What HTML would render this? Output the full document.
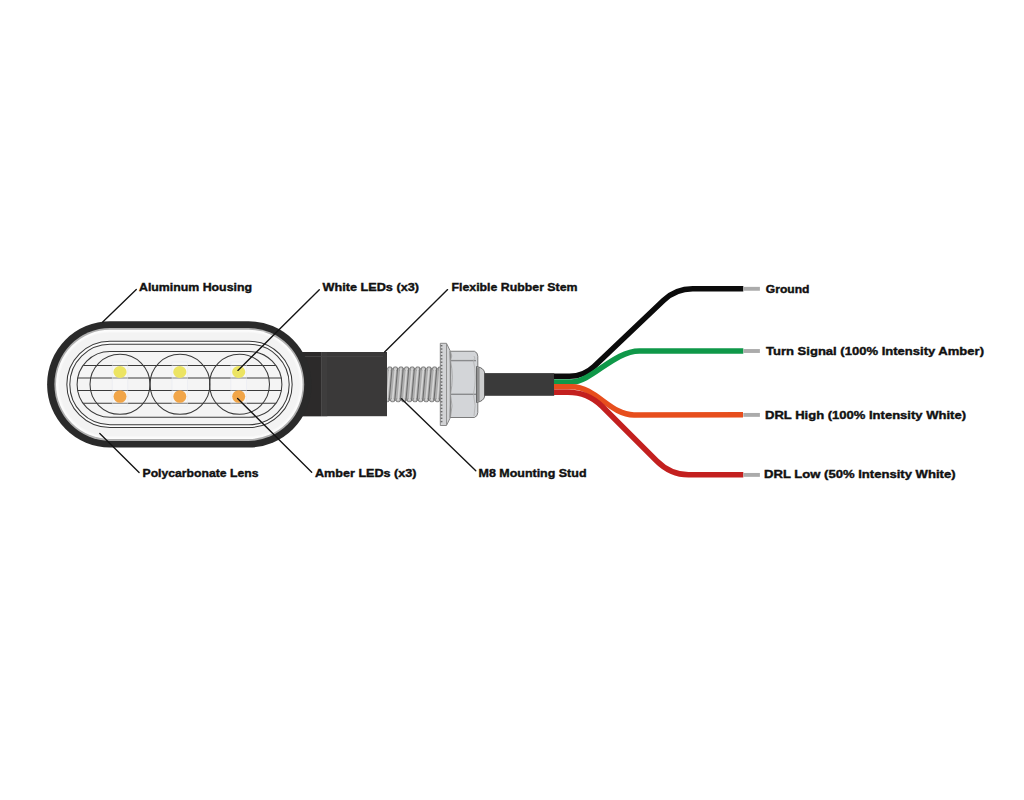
<!DOCTYPE html>
<html><head><meta charset="utf-8">
<style>
html,body{margin:0;padding:0;background:#fff;width:1024px;height:800px;overflow:hidden}
svg{display:block}
text{font-family:"Liberation Sans",sans-serif;font-weight:bold;font-size:11.5px;fill:#111;stroke:#111;stroke-width:0.4px}
</style></head>
<body>
<svg width="1024" height="800" viewBox="0 0 1024 800">
<rect x="290" y="352" width="97" height="64.2" fill="#3a3939"/>
<rect x="290" y="352" width="31" height="64.2" fill="#2c2a2a"/>
<rect x="321" y="352" width="1.3" height="64.2" fill="#4a4949"/>
<rect x="322.3" y="352" width="5" height="64.2" fill="#3e3d3d"/>
<rect x="303" y="356" width="80" height="0.9" fill="#464545"/>
<rect x="47.10" y="321.20" width="264.40" height="126.40" rx="62.90" ry="63.20" fill="#2a2a2a"/>
<rect x="54.40" y="327.90" width="249.80" height="113.00" rx="55.60" ry="56.50" fill="#b0b0b0"/>
<rect x="56.00" y="329.80" width="246.60" height="109.20" rx="54.00" ry="54.60" fill="#fcfcfc"/>
<rect x="57.50" y="331.40" width="243.60" height="106.00" rx="52.50" ry="53.00" fill="#f8f8f8"/>
<rect x="58.80" y="332.60" width="241.00" height="103.60" rx="51.20" ry="51.80" fill="#f3f3f3"/>
<defs><clipPath id="inner"><rect x="77.10" y="351.55" width="204.80" height="65.80" rx="32.90" ry="32.90" /></clipPath></defs>
<g fill="#fcfcfc" stroke="#3a3a3a" stroke-width="1.05"><rect x="66.85" y="341.30" width="225.30" height="86.30" rx="43.15" ry="43.15"/></g>
<g fill="#f4f4f4" stroke="#3a3a3a" stroke-width="1.05"><rect x="69.80" y="344.25" width="219.40" height="80.40" rx="40.20" ry="40.20"/></g>
<g fill="none" stroke="#3a3a3a" stroke-width="1.05">
<rect x="77.10" y="351.55" width="204.80" height="65.80" rx="32.90" ry="32.90"/>
<g clip-path="url(#inner)">
<line x1="60" y1="365.5" x2="300" y2="365.5"/>
<line x1="60" y1="378.0" x2="300" y2="378.0"/>
<line x1="60" y1="390.5" x2="300" y2="390.5"/>
<line x1="60" y1="403.3" x2="300" y2="403.3"/>
</g>
<circle cx="120" cy="384.3" r="30"/>
<circle cx="180" cy="384.3" r="30"/>
<circle cx="239.5" cy="384.3" r="30"/>
</g>
<rect x="112.20" y="362" width="15.6" height="44" fill="#fcfcfc" fill-opacity="0.35" stroke="#e3e6f0" stroke-width="0.6" stroke-opacity="0.7"/>
<ellipse cx="120" cy="372.1" rx="6.6" ry="6.0" fill="#ece462"/>
<ellipse cx="120" cy="396.5" rx="6.5" ry="6.3" fill="#f1a548"/>
<rect x="172.00" y="362" width="15.6" height="44" fill="#fcfcfc" fill-opacity="0.35" stroke="#e3e6f0" stroke-width="0.6" stroke-opacity="0.7"/>
<ellipse cx="179.8" cy="372.1" rx="6.6" ry="6.0" fill="#ece462"/>
<ellipse cx="179.8" cy="396.5" rx="6.5" ry="6.3" fill="#f1a548"/>
<rect x="230.90" y="362" width="15.6" height="44" fill="#fcfcfc" fill-opacity="0.35" stroke="#e3e6f0" stroke-width="0.6" stroke-opacity="0.7"/>
<ellipse cx="238.7" cy="372.1" rx="6.6" ry="6.0" fill="#ece462"/>
<ellipse cx="238.7" cy="396.5" rx="6.5" ry="6.3" fill="#f1a548"/>
<clipPath id="thr"><rect x="387" y="366.3" width="54" height="36.19999999999999"/></clipPath>
<g clip-path="url(#thr)">
<rect x="387" y="367.8" width="54" height="33.19999999999999" fill="#adadad"/>
<ellipse cx="384.20" cy="368.6" rx="2.4" ry="2.3" fill="#7a7a7a"/>
<ellipse cx="384.20" cy="368.90000000000003" rx="1.7" ry="1.7" fill="#c4c4c4"/>
<ellipse cx="381.40" cy="400.2" rx="2.4" ry="2.3" fill="#7a7a7a"/>
<ellipse cx="381.40" cy="399.9" rx="1.7" ry="1.7" fill="#c4c4c4"/>
<ellipse cx="389.80" cy="368.6" rx="2.4" ry="2.3" fill="#7a7a7a"/>
<ellipse cx="389.80" cy="368.90000000000003" rx="1.7" ry="1.7" fill="#c4c4c4"/>
<ellipse cx="387.00" cy="400.2" rx="2.4" ry="2.3" fill="#7a7a7a"/>
<ellipse cx="387.00" cy="399.9" rx="1.7" ry="1.7" fill="#c4c4c4"/>
<ellipse cx="395.40" cy="368.6" rx="2.4" ry="2.3" fill="#7a7a7a"/>
<ellipse cx="395.40" cy="368.90000000000003" rx="1.7" ry="1.7" fill="#c4c4c4"/>
<ellipse cx="392.60" cy="400.2" rx="2.4" ry="2.3" fill="#7a7a7a"/>
<ellipse cx="392.60" cy="399.9" rx="1.7" ry="1.7" fill="#c4c4c4"/>
<ellipse cx="401.00" cy="368.6" rx="2.4" ry="2.3" fill="#7a7a7a"/>
<ellipse cx="401.00" cy="368.90000000000003" rx="1.7" ry="1.7" fill="#c4c4c4"/>
<ellipse cx="398.20" cy="400.2" rx="2.4" ry="2.3" fill="#7a7a7a"/>
<ellipse cx="398.20" cy="399.9" rx="1.7" ry="1.7" fill="#c4c4c4"/>
<ellipse cx="406.60" cy="368.6" rx="2.4" ry="2.3" fill="#7a7a7a"/>
<ellipse cx="406.60" cy="368.90000000000003" rx="1.7" ry="1.7" fill="#c4c4c4"/>
<ellipse cx="403.80" cy="400.2" rx="2.4" ry="2.3" fill="#7a7a7a"/>
<ellipse cx="403.80" cy="399.9" rx="1.7" ry="1.7" fill="#c4c4c4"/>
<ellipse cx="412.20" cy="368.6" rx="2.4" ry="2.3" fill="#7a7a7a"/>
<ellipse cx="412.20" cy="368.90000000000003" rx="1.7" ry="1.7" fill="#c4c4c4"/>
<ellipse cx="409.40" cy="400.2" rx="2.4" ry="2.3" fill="#7a7a7a"/>
<ellipse cx="409.40" cy="399.9" rx="1.7" ry="1.7" fill="#c4c4c4"/>
<ellipse cx="417.80" cy="368.6" rx="2.4" ry="2.3" fill="#7a7a7a"/>
<ellipse cx="417.80" cy="368.90000000000003" rx="1.7" ry="1.7" fill="#c4c4c4"/>
<ellipse cx="415.00" cy="400.2" rx="2.4" ry="2.3" fill="#7a7a7a"/>
<ellipse cx="415.00" cy="399.9" rx="1.7" ry="1.7" fill="#c4c4c4"/>
<ellipse cx="423.40" cy="368.6" rx="2.4" ry="2.3" fill="#7a7a7a"/>
<ellipse cx="423.40" cy="368.90000000000003" rx="1.7" ry="1.7" fill="#c4c4c4"/>
<ellipse cx="420.60" cy="400.2" rx="2.4" ry="2.3" fill="#7a7a7a"/>
<ellipse cx="420.60" cy="399.9" rx="1.7" ry="1.7" fill="#c4c4c4"/>
<ellipse cx="429.00" cy="368.6" rx="2.4" ry="2.3" fill="#7a7a7a"/>
<ellipse cx="429.00" cy="368.90000000000003" rx="1.7" ry="1.7" fill="#c4c4c4"/>
<ellipse cx="426.20" cy="400.2" rx="2.4" ry="2.3" fill="#7a7a7a"/>
<ellipse cx="426.20" cy="399.9" rx="1.7" ry="1.7" fill="#c4c4c4"/>
<ellipse cx="434.60" cy="368.6" rx="2.4" ry="2.3" fill="#7a7a7a"/>
<ellipse cx="434.60" cy="368.90000000000003" rx="1.7" ry="1.7" fill="#c4c4c4"/>
<ellipse cx="431.80" cy="400.2" rx="2.4" ry="2.3" fill="#7a7a7a"/>
<ellipse cx="431.80" cy="399.9" rx="1.7" ry="1.7" fill="#c4c4c4"/>
<ellipse cx="440.20" cy="368.6" rx="2.4" ry="2.3" fill="#7a7a7a"/>
<ellipse cx="440.20" cy="368.90000000000003" rx="1.7" ry="1.7" fill="#c4c4c4"/>
<ellipse cx="437.40" cy="400.2" rx="2.4" ry="2.3" fill="#7a7a7a"/>
<ellipse cx="437.40" cy="399.9" rx="1.7" ry="1.7" fill="#c4c4c4"/>
<ellipse cx="445.80" cy="368.6" rx="2.4" ry="2.3" fill="#7a7a7a"/>
<ellipse cx="445.80" cy="368.90000000000003" rx="1.7" ry="1.7" fill="#c4c4c4"/>
<ellipse cx="443.00" cy="400.2" rx="2.4" ry="2.3" fill="#7a7a7a"/>
<ellipse cx="443.00" cy="399.9" rx="1.7" ry="1.7" fill="#c4c4c4"/>
<line x1="386.40" y1="368.3" x2="383.60" y2="400.5" stroke="#6a6a6a" stroke-width="1"/>
<line x1="384.20" y1="368.8" x2="381.40" y2="400.0" stroke="#d6d6d6" stroke-width="1.6"/>
<line x1="392.00" y1="368.3" x2="389.20" y2="400.5" stroke="#6a6a6a" stroke-width="1"/>
<line x1="389.80" y1="368.8" x2="387.00" y2="400.0" stroke="#d6d6d6" stroke-width="1.6"/>
<line x1="397.60" y1="368.3" x2="394.80" y2="400.5" stroke="#6a6a6a" stroke-width="1"/>
<line x1="395.40" y1="368.8" x2="392.60" y2="400.0" stroke="#d6d6d6" stroke-width="1.6"/>
<line x1="403.20" y1="368.3" x2="400.40" y2="400.5" stroke="#6a6a6a" stroke-width="1"/>
<line x1="401.00" y1="368.8" x2="398.20" y2="400.0" stroke="#d6d6d6" stroke-width="1.6"/>
<line x1="408.80" y1="368.3" x2="406.00" y2="400.5" stroke="#6a6a6a" stroke-width="1"/>
<line x1="406.60" y1="368.8" x2="403.80" y2="400.0" stroke="#d6d6d6" stroke-width="1.6"/>
<line x1="414.40" y1="368.3" x2="411.60" y2="400.5" stroke="#6a6a6a" stroke-width="1"/>
<line x1="412.20" y1="368.8" x2="409.40" y2="400.0" stroke="#d6d6d6" stroke-width="1.6"/>
<line x1="420.00" y1="368.3" x2="417.20" y2="400.5" stroke="#6a6a6a" stroke-width="1"/>
<line x1="417.80" y1="368.8" x2="415.00" y2="400.0" stroke="#d6d6d6" stroke-width="1.6"/>
<line x1="425.60" y1="368.3" x2="422.80" y2="400.5" stroke="#6a6a6a" stroke-width="1"/>
<line x1="423.40" y1="368.8" x2="420.60" y2="400.0" stroke="#d6d6d6" stroke-width="1.6"/>
<line x1="431.20" y1="368.3" x2="428.40" y2="400.5" stroke="#6a6a6a" stroke-width="1"/>
<line x1="429.00" y1="368.8" x2="426.20" y2="400.0" stroke="#d6d6d6" stroke-width="1.6"/>
<line x1="436.80" y1="368.3" x2="434.00" y2="400.5" stroke="#6a6a6a" stroke-width="1"/>
<line x1="434.60" y1="368.8" x2="431.80" y2="400.0" stroke="#d6d6d6" stroke-width="1.6"/>
<line x1="442.40" y1="368.3" x2="439.60" y2="400.5" stroke="#6a6a6a" stroke-width="1"/>
<line x1="440.20" y1="368.8" x2="437.40" y2="400.0" stroke="#d6d6d6" stroke-width="1.6"/>
<line x1="448.00" y1="368.3" x2="445.20" y2="400.5" stroke="#6a6a6a" stroke-width="1"/>
<line x1="445.80" y1="368.8" x2="443.00" y2="400.0" stroke="#d6d6d6" stroke-width="1.6"/>
</g>
<path d="M440.3 343.3 L446.5 343.3 L450 350.5 Q452.5 384.4 450 418.3 L446.5 425.5 L440.3 425.5 Z" fill="#d2d3d5" stroke="#7d7d7d" stroke-width="0.9"/>
<line x1="446.5" y1="344" x2="446.5" y2="425" stroke="#8a8a8a" stroke-width="0.9"/>
<g fill="#6a6a6a">
<rect x="440.6" y="345.0" width="1.8" height="1.4"/>
<rect x="440.6" y="348.3" width="1.8" height="1.4"/>
<rect x="440.6" y="351.6" width="1.8" height="1.4"/>
<rect x="440.6" y="354.9" width="1.8" height="1.4"/>
<rect x="440.6" y="358.2" width="1.8" height="1.4"/>
<rect x="440.6" y="361.5" width="1.8" height="1.4"/>
<rect x="440.6" y="364.8" width="1.8" height="1.4"/>
<rect x="440.6" y="368.1" width="1.8" height="1.4"/>
<rect x="440.6" y="371.4" width="1.8" height="1.4"/>
<rect x="440.6" y="374.7" width="1.8" height="1.4"/>
<rect x="440.6" y="378.0" width="1.8" height="1.4"/>
<rect x="440.6" y="381.3" width="1.8" height="1.4"/>
<rect x="440.6" y="384.6" width="1.8" height="1.4"/>
<rect x="440.6" y="387.9" width="1.8" height="1.4"/>
<rect x="440.6" y="391.2" width="1.8" height="1.4"/>
<rect x="440.6" y="394.5" width="1.8" height="1.4"/>
<rect x="440.6" y="397.8" width="1.8" height="1.4"/>
<rect x="440.6" y="401.1" width="1.8" height="1.4"/>
<rect x="440.6" y="404.4" width="1.8" height="1.4"/>
<rect x="440.6" y="407.7" width="1.8" height="1.4"/>
<rect x="440.6" y="411.0" width="1.8" height="1.4"/>
<rect x="440.6" y="414.3" width="1.8" height="1.4"/>
<rect x="440.6" y="417.6" width="1.8" height="1.4"/>
<rect x="440.6" y="420.9" width="1.8" height="1.4"/>
</g>
<path d="M450.3 351.25 L474.4 351.25 Q477.8 352.5 477.8 356.25 L477.8 412.5 Q477.8 416.2 474.4 417.5 L450.3 417.5 Z" fill="#d3d5d8" stroke="#6e6e6e" stroke-width="0.9"/>
<line x1="450.3" y1="360.6" x2="476" y2="360.6" stroke="#8a8b8d" stroke-width="1.4"/>
<line x1="450.3" y1="394.3" x2="476" y2="394.3" stroke="#8a8b8d" stroke-width="1.4"/>
<path d="M450.5 351.5 Q453 356 450.5 360.5 Q454 377 450.5 394.3 Q453.5 406 450.5 417" fill="none" stroke="#9a9a9a" stroke-width="0.8"/>
<path d="M474 356 Q476 358 473.5 360.6 Q477 377 473.5 394.3 Q476.5 406 474 416" fill="none" stroke="#b0b0b0" stroke-width="0.8"/>
<path d="M476.5 366.5 L480.3 367.6 Q484.6 369.5 484.8 374 L484.8 395 Q484.6 399.5 480.3 401.4 L476.5 402.5 Z" fill="#cdcecf" stroke="#5a5a5a" stroke-width="0.9"/>
<rect x="477" y="367.6" width="2.6" height="34" fill="#8f8f8f"/>
<rect x="484.3" y="373.1" width="69.9" height="22.7" fill="#3a3a3a"/>
<g fill="none" stroke-width="5.5" stroke-linecap="butt">
  <path d="M554 376.2 L569.5 376.2 Q583.7 376.2 594 366.4 L663.4 300.5 Q675.7 288.8 692.7 288.8 L743.3 288.8" stroke="#0b0b0b"/>
  <path d="M554 382 L571.5 382 C591.5 382 613.5 351 639.5 351 L743.3 351" stroke="#0f9849"/>
  <path d="M554 386.8 L572 386.8 C596 386.8 610 414.9 634 414.9 L743 414.85" stroke="#e74e1d"/>
  <path d="M554 392.2 L567.9 392.2 Q587.9 392.2 602 406.3 L656.5 460.8 Q670.5 474.8 688.5 474.8 L743.3 474.8" stroke="#c3201f"/>
</g>
<g stroke="#ababab" stroke-width="3.9">
<line x1="743.3" y1="288.8" x2="759.9" y2="288.8"/>
<line x1="743.3" y1="351" x2="759.9" y2="351"/>
<line x1="743.3" y1="414.9" x2="759.9" y2="414.9"/>
<line x1="743.3" y1="474.9" x2="759.9" y2="474.9"/>
</g>
<g stroke="#141414" stroke-width="1.35" fill="none" stroke-linecap="round">
  <line x1="136.3" y1="289.4" x2="102.7" y2="322"/>
  <line x1="319.3" y1="289.8" x2="237.9" y2="370.4"/>
  <line x1="447.6" y1="289.6" x2="384.6" y2="352"/>
  <line x1="139.1" y1="472.5" x2="99.8" y2="433.5"/>
  <line x1="311.7" y1="472.2" x2="237.6" y2="398.4"/>
  <line x1="475.8" y1="470.8" x2="401.5" y2="398.8"/>
</g>
<text x="139.00" y="290.80" textLength="113.01" lengthAdjust="spacingAndGlyphs">Aluminum Housing</text>
<text x="322.50" y="291.00" textLength="96.50" lengthAdjust="spacingAndGlyphs">White LEDs (x3)</text>
<text x="451.50" y="291.00" textLength="126.02" lengthAdjust="spacingAndGlyphs">Flexible Rubber Stem</text>
<text x="142.50" y="477.00" textLength="116.01" lengthAdjust="spacingAndGlyphs">Polycarbonate Lens</text>
<text x="315.00" y="477.00" textLength="101.51" lengthAdjust="spacingAndGlyphs">Amber LEDs (x3)</text>
<text x="478.50" y="477.00" textLength="108.01" lengthAdjust="spacingAndGlyphs">M8 Mounting Stud</text>
<text x="765.75" y="292.80" textLength="43.77" lengthAdjust="spacingAndGlyphs">Ground</text>
<text x="766.00" y="355.20" textLength="218.00" lengthAdjust="spacingAndGlyphs">Turn Signal (100% Intensity Amber)</text>
<text x="765.00" y="419.00" textLength="201.00" lengthAdjust="spacingAndGlyphs">DRL High (100% Intensity White)</text>
<text x="764.00" y="478.00" textLength="191.51" lengthAdjust="spacingAndGlyphs">DRL Low (50% Intensity White)</text>
</svg>
</body></html>
